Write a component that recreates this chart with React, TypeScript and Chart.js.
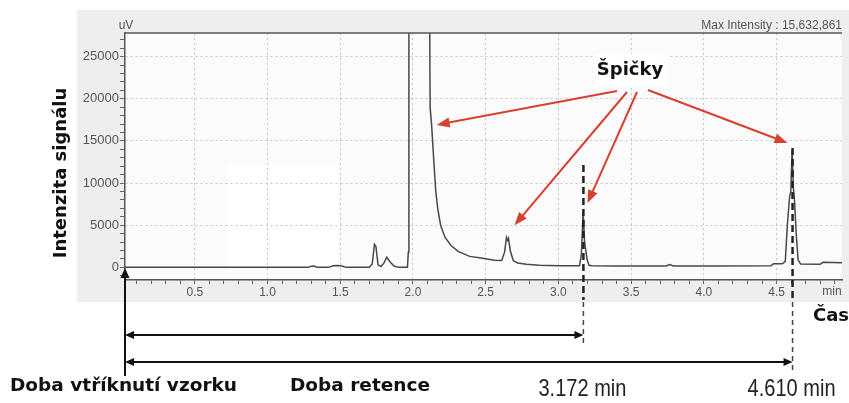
import { useEffect, useRef } from "react";
import { Chart, registerables } from "chart.js";

Chart.register(...registerables);

// Chromatogram trace: retention time (min) and detector signal (uV)
const retentionTimes = [
  0.02, 1.28, 1.3, 1.32, 1.34, 1.42, 1.45, 1.48, 1.51, 1.54,
  1.7, 1.72, 1.735, 1.745, 1.76, 1.78, 1.8, 1.82, 1.84, 1.87, 1.9,
  1.962, 1.968, 1.972, 2.112, 2.118, 2.129, 2.143, 2.156, 2.17, 2.19,
  2.22, 2.26, 2.31, 2.39, 2.48, 2.56, 2.61, 2.63, 2.643, 2.65, 2.657,
  2.67, 2.69, 2.72, 2.78, 2.87, 3.0, 3.145, 3.158, 3.17, 3.18, 3.19,
  3.198, 3.21, 3.23, 3.4, 3.74, 3.765, 3.79, 4.1, 4.46, 4.48, 4.54,
  4.56, 4.575, 4.59, 4.598, 4.607, 4.615, 4.622, 4.635, 4.648, 4.665,
  4.8, 4.82, 4.95,
];
const signal = [
  0, 0, 120, 150, 0, 0, 180, 220, 150, 0,
  0, 400, 2740, 2500, 300, 100, 500, 1200, 700, 150, 0,
  0, 1800, 40000, 40000, 19000, 16700, 12700, 9200, 7000, 5000,
  3570, 2620, 1900, 1300, 1070, 850, 820, 1800, 3540, 3200, 3450,
  1900, 800, 520, 380, 260, 200, 200, 1500, 6580, 3000, 1800,
  900, 250, 180, 170, 160, 330, 170, 170, 180, 420, 430,
  700, 5240, 8370, 9000, 13930, 9500, 8370, 4000, 900, 400,
  380, 600, 560,
];

const xMajorTicks = [0.5, 1.0, 1.5, 2.0, 2.5, 3.0, 3.5, 4.0, 4.5];
const xTickLabels = ["0.5", "1.0", "1.5", "2.0", "2.5", "3.0", "3.5", "4.0", "4.5"];
const yMajorTicks = [0, 5000, 10000, 15000, 20000, 25000];
const yTickLabels = ["0", "5000", "10000", "15000", "20000", "25000"];
const xMinorStep = 0.1;
const yMinorStep = 1000;

const retentionMarks = [3.172, 4.61];
const retentionLabels = ["3.172 min", "4.610 min"];
// peaks pointed to by the red arrows (time, signal)
const peakArrowTimes = [2.163, 2.698, 3.2, 4.575];
const peakArrowSignals = [16900, 5000, 7620, 14760];

const BOLD = '"DejaVu Sans", Verdana, sans-serif';
const AXISF = '"Liberation Sans", Arial, sans-serif';

function head(ctx: CanvasRenderingContext2D, x1: number, y1: number, x2: number, y2: number, len: number, w: number) {
  const a = Math.atan2(y2 - y1, x2 - x1);
  const bx = x2 - len * Math.cos(a);
  const by = y2 - len * Math.sin(a);
  ctx.beginPath();
  ctx.moveTo(x2, y2);
  ctx.lineTo(bx + w * Math.sin(a), by - w * Math.cos(a));
  ctx.lineTo(bx - w * Math.sin(a), by + w * Math.cos(a));
  ctx.closePath();
  ctx.fill();
}

function arrow(ctx: CanvasRenderingContext2D, x1: number, y1: number, x2: number, y2: number, len: number, w: number, both: boolean) {
  const a = Math.atan2(y2 - y1, x2 - x1);
  const sx = both ? x1 + (len - 2) * Math.cos(a) : x1;
  const sy = both ? y1 + (len - 2) * Math.sin(a) : y1;
  ctx.beginPath();
  ctx.moveTo(sx, sy);
  ctx.lineTo(x2 - (len - 2) * Math.cos(a), y2 - (len - 2) * Math.sin(a));
  ctx.stroke();
  head(ctx, x1, y1, x2, y2, len, w);
  if (both) head(ctx, x2, y2, x1, y1, len, w);
}

function narrowText(ctx: CanvasRenderingContext2D, text: string, cx: number, cy: number, targetW: number) {
  const w = ctx.measureText(text).width;
  const s = Math.min(1, targetW / w);
  ctx.save();
  ctx.translate(cx, cy);
  ctx.scale(s, 1);
  ctx.textAlign = "center";
  ctx.textBaseline = "middle";
  ctx.fillText(text, 0, 0);
  ctx.restore();
}

const annotationPlugin = {
  id: "chromAnnotations",
  beforeDraw(chart: any) {
    const { ctx, chartArea } = chart;
    ctx.save();
    ctx.fillStyle = "#ffffff";
    ctx.fillRect(0, 0, chart.width, chart.height);
    ctx.fillStyle = "#eeeeee";
    ctx.fillRect(77, 10, chart.width - 77, 292);
    ctx.fillStyle = "#fbfbfb";
    ctx.fillRect(chartArea.left, chartArea.top, chartArea.right - chartArea.left, chartArea.bottom - chartArea.top);
    ctx.fillStyle = "#ffffff";
    ctx.fillRect(227, 165, 111, 101);
    ctx.restore();
  },
  afterDraw(chart: any) {
    const { ctx, chartArea } = chart;
    const xs = chart.scales.x;
    const ys = chart.scales.y;
    ctx.save();

    // top frame line
    ctx.strokeStyle = "#555";
    ctx.lineWidth = 1.5;
    ctx.beginPath();
    ctx.moveTo(chartArea.left, chartArea.top);
    ctx.lineTo(chartArea.right, chartArea.top);
    ctx.stroke();

    // small axis texts
    ctx.fillStyle = "#555";
    ctx.font = `12px ${AXISF}`;
    ctx.textBaseline = "alphabetic";
    ctx.textAlign = "center";
    ctx.fillText("uV", chartArea.left + 1, chartArea.top - 4);
    ctx.textAlign = "right";
    ctx.fillText("Max Intensity : 15,632,861", chartArea.right, chartArea.top - 4);
    ctx.textAlign = "center";
    ctx.textBaseline = "middle";
    ctx.fillText("min", 832, 292);

    // retention time dashed markers
    const mx = retentionMarks.map((t) => xs.getPixelForValue(t));
    const tops = [165, 148];
    const ends = [345, 372];
    mx.forEach((x, i) => {
      ctx.strokeStyle = "#222";
      ctx.lineWidth = 2.5;
      ctx.setLineDash([7, 4]);
      ctx.beginPath();
      ctx.moveTo(x, tops[i]);
      ctx.lineTo(x, 300);
      ctx.stroke();
      ctx.strokeStyle = "#444";
      ctx.lineWidth = 1.5;
      ctx.setLineDash([5, 4]);
      ctx.beginPath();
      ctx.moveTo(x, 302);
      ctx.lineTo(x, ends[i]);
      ctx.stroke();
    });
    ctx.setLineDash([]);

    // injection marker
    const x0 = chartArea.left;
    ctx.strokeStyle = "#111";
    ctx.fillStyle = "#111";
    ctx.lineWidth = 2;
    arrow(ctx, x0, 376, x0, 268, 10, 4.5, false);

    // retention spans
    ctx.lineWidth = 2;
    arrow(ctx, x0, 335, mx[0], 335, 9, 4, true);
    arrow(ctx, x0, 362, mx[1], 362, 9, 4, true);

    // bottom texts
    ctx.fillStyle = "#111";
    ctx.font = `bold 18.5px ${BOLD}`;
    ctx.textAlign = "left";
    ctx.textBaseline = "middle";
    ctx.fillText("Doba vtříknutí vzorku", 10, 386);
    ctx.fillText("Doba retence", 290, 386);
    ctx.fillStyle = "#ffffff";
    ctx.fillRect(806, 302, 43, 36);
    ctx.fillStyle = "#111";
    ctx.font = `bold 18px ${BOLD}`;
    ctx.fillText("Čas", 813, 316);

    ctx.fillStyle = "#222";
    ctx.font = `24px ${AXISF}`;
    retentionLabels.forEach((lab, i) => narrowText(ctx, lab, mx[i] - 1, 389, 88));

    // y axis title
    ctx.save();
    ctx.translate(61, 173);
    ctx.rotate(-Math.PI / 2);
    ctx.fillStyle = "#111";
    ctx.font = `bold 18px ${BOLD}`;
    ctx.textAlign = "center";
    ctx.textBaseline = "middle";
    ctx.fillText("Intenzita signálu", 0, 0);
    ctx.restore();

    // peaks label with red arrows
    ctx.fillStyle = "rgba(255,255,255,0.9)";
    ctx.fillRect(594, 54, 74, 32);
    ctx.fillStyle = "#111";
    ctx.font = `bold 18px ${BOLD}`;
    ctx.textAlign = "center";
    ctx.textBaseline = "middle";
    ctx.fillText("Špičky", 630, 70);

    const starts = [[617, 91], [627, 92], [637, 92], [648, 90]];
    ctx.strokeStyle = "#d6412f";
    ctx.fillStyle = "#d6412f";
    ctx.lineWidth = 2;
    peakArrowTimes.forEach((t, i) => {
      const tx = xs.getPixelForValue(t);
      const ty = ys.getPixelForValue(peakArrowSignals[i]);
      arrow(ctx, starts[i][0], starts[i][1], tx, ty, 13, 5, false);
    });

    ctx.restore();
  },
};

export default function App() {
  const ref = useRef<HTMLCanvasElement | null>(null);

  useEffect(() => {
    if (!ref.current) return;
    const points = retentionTimes.map((t, i) => ({ x: t, y: signal[i] }));
    const isMajor = (list: number[], v: number) => list.some((m) => Math.abs(m - v) < 1e-6);

    const chart = new Chart(ref.current, {
      type: "line",
      data: {
        datasets: [
          {
            data: points,
            borderColor: "#484848",
            borderWidth: 1.5,
            pointRadius: 0,
            tension: 0,
            fill: false,
          },
        ],
      },
      options: {
        animation: false,
        responsive: false,
        devicePixelRatio: 1,
        layout: { padding: { top: 33, right: 7, left: 0, bottom: 0 } },
        plugins: { legend: { display: false }, tooltip: { enabled: false } },
        scales: {
          x: {
            type: "linear",
            min: 0.02,
            max: 4.95,
            afterBuildTicks: (s: any) => {
              const t: { value: number }[] = [];
              for (let v = xMinorStep; v < 4.95 - 1e-6; v += xMinorStep) t.push({ value: Math.round(v * 10) / 10 });
              s.ticks = t;
            },
            afterFit: (s: any) => {
              s.height = 123;
            },
            ticks: {
              autoSkip: false,
              maxRotation: 0,
              padding: 1,
              color: "#555",
              font: { family: AXISF, size: 12 },
              callback: (v: any) => {
                const i = xMajorTicks.findIndex((m) => Math.abs(m - Number(v)) < 1e-6);
                return i >= 0 ? xTickLabels[i] : "";
              },
            },
            grid: {
              color: (c: any) => (c.tick && isMajor(xMajorTicks, c.tick.value) ? "#c4c4c4" : "rgba(0,0,0,0)"),
              tickColor: "#666",
              tickLength: 4,
              lineWidth: 1,
            },
            border: { display: true, color: "#555", width: 1.5, dash: [2, 3] },
          },
          y: {
            type: "linear",
            min: -1500,
            max: 27800,
            afterBuildTicks: (s: any) => {
              const t: { value: number }[] = [];
              for (let v = -yMinorStep; v <= 27000; v += yMinorStep) t.push({ value: v });
              s.ticks = t;
            },
            afterFit: (s: any) => {
              s.width = 125;
            },
            ticks: {
              autoSkip: false,
              padding: 1,
              color: "#555",
              font: { family: AXISF, size: 13 },
              callback: (v: any) => {
                const i = yMajorTicks.findIndex((m) => Math.abs(m - Number(v)) < 1e-6);
                return i >= 0 ? yTickLabels[i] : "";
              },
            },
            grid: {
              color: (c: any) =>
                c.tick && isMajor(yMajorTicks, c.tick.value) && c.tick.value !== 0 ? "#c4c4c4" : "rgba(0,0,0,0)",
              tickColor: "#666",
              tickLength: 5,
              lineWidth: 1,
            },
            border: { display: true, color: "#555", width: 1.5, dash: [2, 3] },
          },
        },
      },
      plugins: [annotationPlugin],
    });
    return () => chart.destroy();
  }, []);

  return (
    <div style={{ position: "absolute", left: 0, top: 0, width: 849, height: 403 }}>
      <canvas ref={ref} width={849} height={403} style={{ display: "block", width: 849, height: 403 }} />
    </div>
  );
}
